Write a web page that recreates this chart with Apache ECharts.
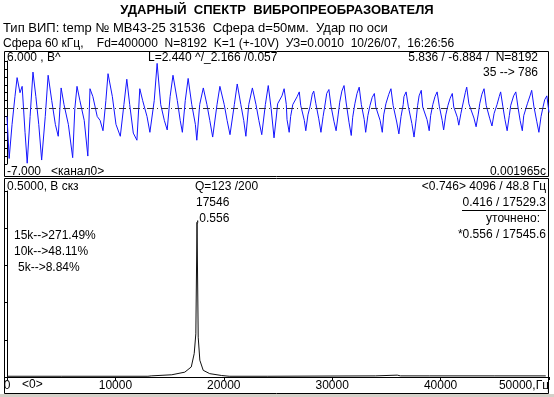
<!DOCTYPE html>
<html>
<head>
<meta charset="utf-8">
<script src="https://cdn.jsdelivr.net/npm/echarts@6/dist/echarts.min.js"></script>
<style>
  html, body { margin: 0; padding: 0; background: #fff; }
  #chart { width: 554px; height: 397px; }
</style>
</head>
<body>
<div id="chart"></div>
<script>
// осциллограмма: номер отсчёта / значение, В
const waveSamples = [
  35, 38, 42, 46, 49, 53, 56, 60, 63, 67, 71, 75, 79, 83, 88, 92, 97, 102, 106, 110,
  114, 120, 126, 129, 132, 136, 142, 147, 150, 154, 160, 164, 168, 172, 175, 181, 186, 192, 197, 201,
  205, 210, 215, 219, 223, 229, 233, 239, 243, 248, 253, 257, 261, 265, 271, 275, 278, 282, 286, 291,
  296, 298, 302, 307, 312, 316, 320, 326, 330, 336, 340, 344, 350, 354, 359, 363, 366, 370, 375, 380,
  384, 388, 393, 397, 401,
  405, 408, 410, 416, 419, 422, 423,
  426, 428, 431, 437, 440, 442, 447,
  449, 452, 455, 458, 460, 463, 467,
  470, 473, 476, 478, 481, 484, 488,
  491, 494, 496, 499, 502, 505, 509,
  512, 514, 517, 520, 523, 526, 530,
  532, 535, 538, 541, 544, 546, 552,
  555, 557, 560, 564, 567, 570, 575,
  578, 581, 584, 585, 588, 591, 596,
  599, 602, 604, 606, 609, 611, 617,
  620, 622, 625, 628, 631, 634, 638,
  640, 643, 646, 649, 652, 654, 659,
  661, 664, 667, 670, 672, 675, 682,
  685, 688, 690, 693, 696, 699, 704,
  707, 710, 714, 717, 719, 722, 725,
  728, 731, 733, 737, 740, 743, 746,
  749, 751, 756, 760, 762, 765, 769,
  772, 775, 778, 780, 783, 786
];
const waveValues = [
  -1.0, -6.3, -2.0, 1.5, 3.9, 2.0, 2.8, -3.0, -6.9, -1.0, 4.6, 1.5, -2.0, -6.5, -1.0, 4.2, 1.0, -2.0, -3.5, 2.6,
  0.5, -2.0, -6.2, 0.0, 2.8, 1.0, -1.5, -6.0, 2.5, 1.5, -1.0, -1.5, -2.8, 1.0, 4.4, 1.5, -2.0, -3.5, 0.5, 3.7,
  0.5, -3.1, -4.0, 2.5, 1.0, -1.0, -3.0, 1.0, 5.7, 0.5, -1.5, -2.7, 1.5, 4.2, 1.0, -1.5, -3.0, 1.0, 3.8, 0.5,
  -2.0, -4.0, 0.5, 2.6, 0.5, -1.5, -3.6, 0.5, 2.8, 0.5, -1.5, -3.3, 0.5, 3.1, 0.5, -1.5, -3.5, 0.5, 2.6, 0.5,
  -1.5, -3.3, 0.5, 2.9, 0.0,
  -3.7, -1.2, 0.6, 1.6, 2.5, 0.5, -1.4,
  -3.0, -1.0, 0.5, 1.5, 2.1, 0.4, -1.5,
  -2.8, -0.8, 0.3, 1.8, 2.2, 0.6, -1.3,
  -3.0, -1.0, 0.7, 1.9, 2.4, 0.3, -1.6,
  -2.8, -0.7, 0.8, 2.2, 2.9, 0.7, -1.8,
  -3.4, -1.1, 0.6, 1.9, 2.7, 0.5, -1.4,
  -3.0, -0.9, 0.4, 1.4, 1.9, 0.2, -1.5,
  -3.0, -0.8, 0.6, 1.8, 2.5, 0.4, -1.7,
  -3.2, -1.0, 0.5, 1.5, 2.1, 0.3, -1.9,
  -3.6, -1.3, 0.4, 1.6, 2.3, 0.2, -1.4,
  -2.8, -0.9, 0.5, 1.5, 2.1, 0.3, -1.5,
  -2.7, -0.8, 0.4, 1.3, 1.9, 0.2, -1.1,
  -2.1, -0.6, 0.7, 2.0, 2.7, 0.6, -1.2,
  -2.3, -0.7, 0.6, 1.8, 2.5, 0.4, -1.3,
  -2.2, -0.6, 0.5, 1.5, 2.1, 0.3, -1.4,
  -2.8, -0.9, 0.4, 1.6, 2.1, 0.2, -1.5,
  -2.8, -0.9, 0.6, 1.7, 2.3, 0.3, -1.6,
  -3.0, -1.0, 0.3, 1.1, 1.6, -0.5
];

// спектр: частота, Гц / СКЗ, В
const specFreq = [0, 5000, 13000, 13300, 15200, 16400, 17000, 17270, 17420, 17530, 17640, 17790, 18100, 18700, 19800, 20500, 24000, 34000, 36000, 36300, 39000, 45000, 49700];
const specValues = [0.002, 0.002, 0.002, 0.003, 0.006, 0.013, 0.027, 0.063, 0.116, 0.416, 0.107, 0.045, 0.018, 0.009, 0.004, 0.002, 0.002, 0.003, 0.005, 0.003, 0.003, 0.003, 0.003];

const waveMin = -7, waveMax = 6;
const specMax = 0.5, specXMax = 50000;
const freqTicks = [0, 10000, 20000, 30000, 40000, 50000];

const FONT = 'Liberation Sans';
const txt = (x, y, text, align, size, weight) => ({
  type: 'text', x: x, y: y, silent: true,
  style: {
    text: text, fontFamily: FONT, fontSize: size || 12, fontWeight: weight || 'normal',
    fill: '#000', align: align || 'left', verticalAlign: 'middle'
  }
});

const chart = echarts.init(document.getElementById('chart'), null, { renderer: 'canvas' });

const option = {
  animation: false,
  backgroundColor: '#fff',
  grid: [
    { left: 7, right: 5, top: 61, height: 103 },
    { left: 7, right: 5, top: 191, bottom: 20 }
  ],
  xAxis: [
    {
      gridIndex: 0, type: 'value', min: 35, max: 786,
      axisLine: { show: false }, axisTick: { show: false }, axisLabel: { show: false }, splitLine: { show: false }
    },
    {
      gridIndex: 1, type: 'value', min: 0, max: specXMax, interval: 10000,
      axisLine: { show: true, onZero: false, lineStyle: { color: '#000', width: 1 } },
      axisTick: { show: true, length: 3, lineStyle: { color: '#000' } },
      axisLabel: {
        show: true, margin: 3, color: '#000', fontFamily: FONT, fontSize: 12,
        customValues: freqTicks,
        alignMaxLabel: 'right',
        formatter: v => v === 50000 ? '50000,Гц' : String(v)
      },
      splitLine: { show: false }
    }
  ],
  yAxis: [
    {
      gridIndex: 0, type: 'value', min: waveMin, max: waveMax, interval: 1,
      axisLine: { show: true, lineStyle: { color: '#000' } },
      axisTick: { show: true, length: 2, lineStyle: { color: '#000' } },
      axisLabel: { show: false }, splitLine: { show: false }
    },
    {
      gridIndex: 1, type: 'value', min: 0, max: specMax, interval: 0.1,
      axisLine: { show: true, lineStyle: { color: '#000' } },
      axisTick: { show: true, length: 2, lineStyle: { color: '#000' } },
      axisLabel: { show: false }, splitLine: { show: false }
    }
  ],
  series: [
    {
      type: 'line', xAxisIndex: 0, yAxisIndex: 0,
      data: waveSamples.map((s, i) => [s, waveValues[i]]),
      showSymbol: false, clip: false,
      lineStyle: { color: '#1414ff', width: 1 },
      markLine: {
        silent: true, symbol: 'none', label: { show: false },
        lineStyle: { color: '#333', width: 1, type: [7, 3, 1, 3] },
        data: [{ yAxis: 0 }]
      }
    },
    {
      type: 'line', xAxisIndex: 1, yAxisIndex: 1,
      data: specFreq.map((f, i) => [f, specValues[i]]),
      showSymbol: false,
      lineStyle: { color: '#111', width: 1 }
    }
  ],
  graphic: [
    { type: 'rect', silent: true, shape: { x: 4.5, y: 51.5, width: 544, height: 125 }, style: { fill: 'none', stroke: '#000', lineWidth: 1 } },
    { type: 'rect', silent: true, shape: { x: 4.5, y: 178.5, width: 544, height: 215 }, style: { fill: 'none', stroke: '#000', lineWidth: 1 } },
    { type: 'rect', silent: true, shape: { x: 0, y: 394, width: 554, height: 3 }, style: { fill: '#d4d0c8' } },

    txt(277, 10, 'УДАРНЫЙ  СПЕКТР  ВИБРОПРЕОБРАЗОВАТЕЛЯ', 'center', 13, 'bold'),
    txt(3, 28, 'Тип ВИП: temp № МВ43-25 31536  Сфера d=50мм.  Удар по оси', 'left', 13),
    txt(3, 44, 'Сфера 60 кГц,    Fd=400000  N=8192  K=1 (+-10V)  УЗ=0.0010  10/26/07,  16:26:56'),

    txt(7, 58, '6.000 , В^'),
    txt(148, 58, 'L=2.440 ^/_2.166 /0.057'),
    txt(538, 58, '5.836 / -6.884 /  N=8192', 'right'),
    txt(538, 73, '35 --> 786', 'right'),
    txt(7, 172, '-7.000   <канал0>'),
    txt(546, 172, '0.001965с', 'right'),

    txt(7, 187, '0.5000, В скз'),
    txt(195, 187, 'Q=123 /200'),
    txt(196, 203, '17546'),
    txt(196, 219, ',0.556'),
    txt(14, 236, '15k-->271.49%'),
    txt(14, 252, '10k-->48.11%'),
    txt(18, 268, '5k-->8.84%'),
    txt(546, 187, '<0.746> 4096 / 48.8 Гц', 'right'),
    txt(546, 203, '0.416 / 17529.3', 'right'),
    { type: 'line', silent: true, shape: { x1: 462, y1: 210.5, x2: 546, y2: 210.5 }, style: { stroke: '#000', lineWidth: 1 } },
    txt(540, 219, 'уточнено:', 'right'),
    txt(546, 235, '*0.556 / 17545.6', 'right'),
    txt(22, 385, '<0>')
  ]
};

chart.setOption(option);
</script>
</body>
</html>
